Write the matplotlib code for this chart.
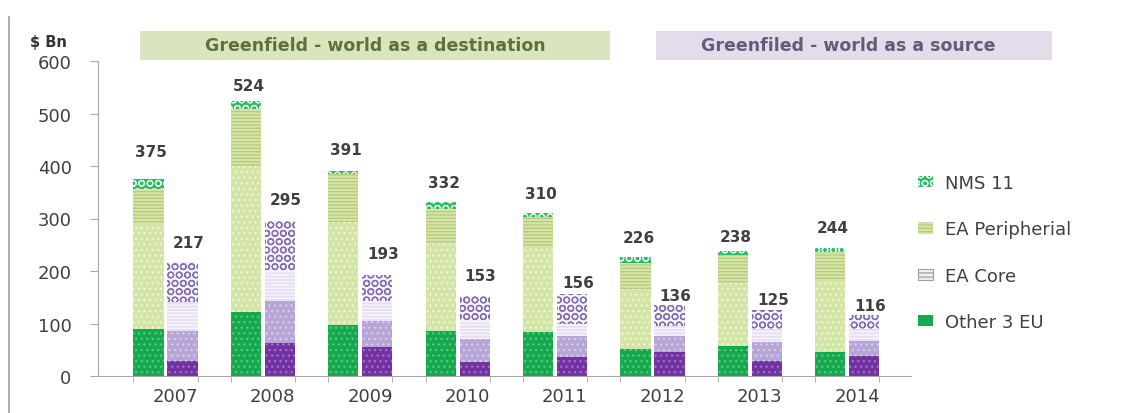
import numpy as np
import matplotlib
matplotlib.use('Agg')
import matplotlib.pyplot as plt
from matplotlib.patches import Patch, Rectangle
from matplotlib.lines import Line2D

plt.rcParams['font.family'] = ['DejaVu Sans']
plt.rcParams['hatch.linewidth'] = 0.9

anos = ['2007', '2008', '2009', '2010', '2011', '2012', '2013', '2014']

# world as a destination ($ Bn)
dest_other3 = [90, 122, 97, 86, 83, 51, 57, 46]
dest_core = [200, 278, 196, 165, 162, 115, 121, 136]
dest_perif = [66, 108, 91, 67, 57, 50, 52, 55]
dest_nms = [19, 16, 7, 14, 8, 10, 8, 7]
dest_total = [375, 524, 391, 332, 310, 226, 238, 244]

# world as a source ($ Bn)
orig_other3 = [29, 63, 55, 26, 36, 45, 29, 39]
orig_core = [57, 80, 50, 44, 41, 32, 35, 28]
orig_perif = [55, 57, 38, 35, 22, 19, 26, 23]
orig_nms = [76, 95, 50, 48, 57, 40, 35, 26]
orig_total = [217, 295, 193, 153, 156, 136, 125, 116]

# deslocamento vertical dos rotulos de total
desl_dest = [52, 30, 41, 37, 38, 38, 28, 39]
desl_orig = [38, 42, 40, 38, 22, 17, 20, 18]

estilo_dest = [
    dict(facecolor='#16a84c', edgecolor='#5cc985', hatch='...'),
    dict(facecolor='#d3e5a6', edgecolor='#eef6d6', hatch='...'),
    dict(facecolor='#d5e5a8', edgecolor='#b4c97c', hatch='-----'),
    dict(facecolor='#2fb868', edgecolor='#d8f3e3', hatch='OO'),
]
estilo_orig = [
    dict(facecolor='#7232a2', edgecolor='#a274c8', hatch='...'),
    dict(facecolor='#b6a5d5', edgecolor='#d8cdea', hatch='...'),
    dict(facecolor='#e6def2', edgecolor='#fbf9fd', hatch='-----'),
    dict(facecolor='#f6f3fb', edgecolor='#8470b0', hatch='OO'),
]

fig = plt.figure(figsize=(11.32, 4.14), dpi=100)
ax = fig.add_axes([98 / 1132, 1 - 377 / 414, (911 - 98) / 1132, (377 - 62) / 414])

x = np.arange(len(anos))
larg = 0.31
xd = x - 0.175
xo = x + 0.175

base = np.zeros(len(anos))
for vals, est in zip([dest_other3, dest_core, dest_perif, dest_nms], estilo_dest):
    ax.bar(xd, vals, larg, bottom=base, linewidth=0, **est)
    base += np.array(vals)

base = np.zeros(len(anos))
for vals, est in zip([orig_other3, orig_core, orig_perif, orig_nms], estilo_orig):
    ax.bar(xo, vals, larg, bottom=base, linewidth=0, **est)
    base += np.array(vals)

for i in range(len(anos)):
    ax.text(xd[i] + 0.03, dest_total[i] + desl_dest[i], str(dest_total[i]),
            ha='center', va='center', fontsize=11, fontweight='bold', color='#404040')
    ax.text(xo[i] + 0.06, orig_total[i] + desl_orig[i], str(orig_total[i]),
            ha='center', va='center', fontsize=11, fontweight='bold', color='#404040')

ax.set_ylim(0, 600)
ax.set_xlim(-0.693, 7.654)
ax.set_yticks(range(0, 601, 100))
ax.tick_params(axis='y', length=6, color='#a6a6a6', pad=13, labelsize=13, labelcolor='#404040')

ax.set_xticks(x + 0.1)
ax.set_xticklabels(anos)
ax.tick_params(axis='x', which='major', length=0, pad=8, labelsize=13, labelcolor='#404040')
ax.set_xticks(np.concatenate([xd - larg / 2, xo + larg / 2]), minor=True)
ax.tick_params(axis='x', which='minor', length=4, color='#a6a6a6')

for lado in ['top', 'right']:
    ax.spines[lado].set_visible(False)
for lado in ['left', 'bottom']:
    ax.spines[lado].set_color('#a6a6a6')

# caixas de titulo
fig.patches.append(Rectangle((140 / 1132, 1 - 61 / 414), 470 / 1132, 29 / 414,
                             transform=fig.transFigure, facecolor='#d9e5bf', edgecolor='none'))
fig.text(375 / 1132, 1 - 46 / 414, 'Greenfield - world as a destination', ha='center', va='center',
         fontsize=12.5, fontweight='bold', color='#5d7238')
fig.patches.append(Rectangle((656 / 1132, 1 - 61 / 414), 396 / 1132, 29 / 414,
                             transform=fig.transFigure, facecolor='#e3ddeb', edgecolor='none'))
fig.text(848 / 1132, 1 - 46 / 414, 'Greenfiled - world as a source', ha='center', va='center',
         fontsize=12.5, fontweight='bold', color='#66597a')

fig.text(30 / 1132, 1 - 42 / 414, '$ Bn', ha='left', va='center',
         fontsize=10.5, fontweight='bold', color='#333333')

fig.add_artist(Line2D([9 / 1132, 9 / 1132], [0, 1 - 18 / 414], transform=fig.transFigure,
                      color='#a0a0a0', linewidth=1.2))

handles = [
    Patch(facecolor='#2fb868', edgecolor='#d8f3e3', hatch='OO', linewidth=0),
    Patch(facecolor='#d5e5a8', edgecolor='#b4c97c', hatch='-----', linewidth=0),
    Patch(facecolor='#f0f0f0', edgecolor='#a0a0a0', hatch='----', linewidth=0.8),
    Patch(facecolor='#16a84c', edgecolor='#16a84c', linewidth=0),
]
nomes = ['NMS 11', 'EA Peripherial', 'EA Core', 'Other 3 EU']
fig.legend(handles, nomes, loc='upper left', bbox_to_anchor=(918 / 1132, 1 - 175 / 414),
           frameon=False, fontsize=13, labelcolor='#404040', handlelength=0.83,
           handleheight=0.6, handletextpad=0.65, labelspacing=1.57, borderaxespad=0,
           borderpad=0)

fig.savefig('out.png', dpi=100)
